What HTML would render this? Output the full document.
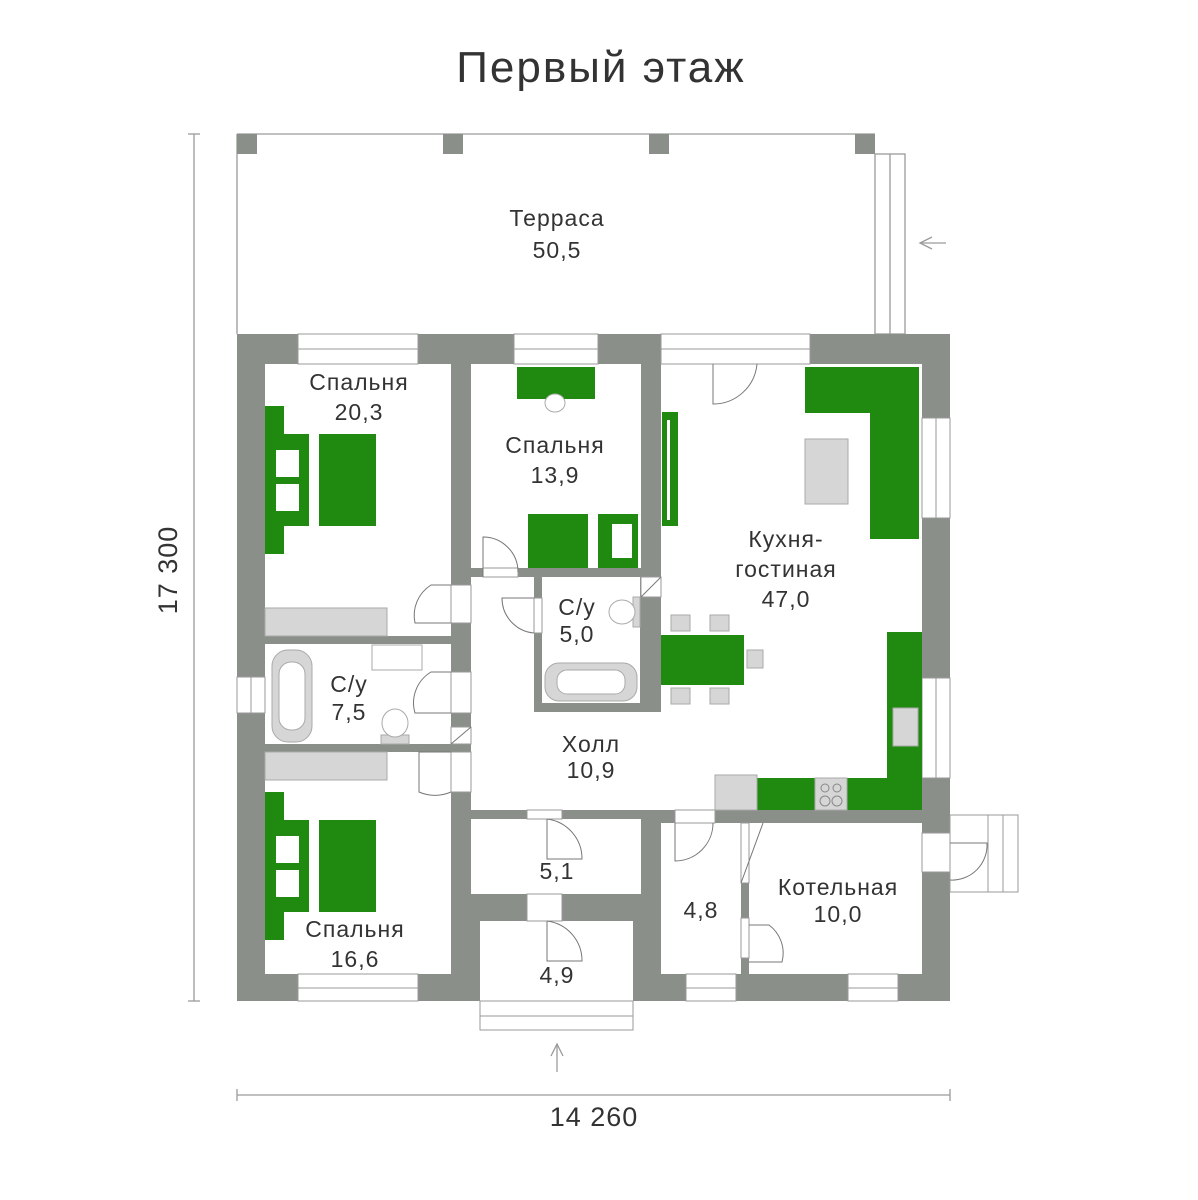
<!DOCTYPE html>
<html><head><meta charset="utf-8"><style>
html,body{margin:0;padding:0;background:#fff}
svg{display:block}
text{font-family:"Liberation Sans",sans-serif;fill:#333}
</style></head><body>
<svg width="1198" height="1200" viewBox="0 0 1198 1200" xmlns="http://www.w3.org/2000/svg">
<g fill="none" stroke="#9a9a9a" stroke-width="1.3">
<line x1="237" y1="134" x2="875" y2="134"/>
<line x1="237" y1="134" x2="237" y2="334"/>
<rect x="875" y="154" width="30" height="180"/>
<line x1="890" y1="154" x2="890" y2="334"/>
<line x1="920" y1="243" x2="946" y2="243"/>
<polyline points="932,237 920,243 932,249"/>
<line x1="194" y1="134" x2="194" y2="1001"/>
<line x1="188" y1="134" x2="200" y2="134"/>
<line x1="188" y1="1001" x2="200" y2="1001"/>
<line x1="237" y1="1095" x2="950" y2="1095"/>
<line x1="237" y1="1089" x2="237" y2="1101"/>
<line x1="950" y1="1089" x2="950" y2="1101"/>
<line x1="557" y1="1044" x2="557" y2="1072"/>
<polyline points="551,1056 557,1044 563,1056"/>
</g>
<g fill="#8a8f8a">
<rect x="237" y="134" width="20" height="20"/><rect x="443" y="134" width="20" height="20"/>
<rect x="649" y="134" width="20" height="20"/><rect x="855" y="134" width="20" height="20"/>
<rect x="237" y="334" width="713" height="667"/>
</g>
<g fill="#fff">
<rect x="265" y="364" width="186" height="272"/>
<rect x="471" y="364" width="170" height="204"/>
<rect x="661" y="364" width="261" height="446"/>
<rect x="471" y="577" width="190" height="233"/>
<rect x="641" y="712" width="30" height="98"/>
<rect x="265" y="644" width="186" height="100"/>
<rect x="265" y="752" width="186" height="222"/>
<rect x="471" y="819" width="170" height="75"/>
<rect x="480" y="921" width="153" height="80"/>
<rect x="661" y="823" width="80" height="151"/>
<rect x="749" y="823" width="173" height="151"/>
</g>
<rect x="534" y="575" width="127" height="137" fill="#8a8f8a"/>
<rect x="542" y="577" width="98" height="126" fill="#fff"/>
<g fill="#fff" stroke="#9a9a9a" stroke-width="1">
<rect x="298" y="334" width="120" height="30"/><line x1="298" y1="349" x2="418" y2="349"/>
<rect x="514" y="334" width="84" height="30"/><line x1="514" y1="349" x2="598" y2="349"/>
<rect x="661" y="334" width="149" height="30"/><line x1="661" y1="349" x2="810" y2="349"/>
<rect x="922" y="418" width="28" height="100"/><line x1="936" y1="418" x2="936" y2="518"/>
<rect x="922" y="678" width="28" height="100"/><line x1="936" y1="678" x2="936" y2="778"/>
<rect x="237" y="677" width="28" height="36"/><line x1="251" y1="677" x2="251" y2="713"/>
<rect x="298" y="974" width="120" height="27"/><line x1="298" y1="988" x2="418" y2="988"/>
<rect x="686" y="974" width="50" height="27"/><line x1="686" y1="988" x2="736" y2="988"/>
<rect x="848" y="974" width="50" height="27"/><line x1="848" y1="988" x2="898" y2="988"/>
<rect x="480" y="1001" width="153" height="29"/><line x1="480" y1="1016" x2="633" y2="1016"/>
<rect x="950" y="815" width="68" height="77"/><line x1="988" y1="815" x2="988" y2="892"/><line x1="1003" y1="815" x2="1003" y2="892"/>
<rect x="922" y="833" width="28" height="39"/>
<rect x="451" y="585" width="20" height="38"/>
<rect x="451" y="672" width="20" height="41"/>
<rect x="451" y="752" width="20" height="40"/>
<rect x="451" y="727" width="20" height="17"/>
<rect x="641" y="577" width="20" height="20"/>
<rect x="534" y="598" width="8" height="35"/>
<rect x="483" y="568" width="35" height="9"/>
<rect x="527" y="810" width="35" height="9"/>
<rect x="527" y="894" width="35" height="27"/>
<rect x="675" y="810" width="40" height="13"/>
<rect x="741" y="823" width="8" height="60"/>
<rect x="741" y="918" width="8" height="40"/>
</g>
<g fill="none" stroke="#777" stroke-width="1">
<path d="M713,364 v40 a44,44 0 0 0 44,-40"/>
<path d="M451,585 h-20 a36,36 0 0 0 -16,38 h36"/>
<path d="M451,672 h-20 a36,36 0 0 0 -16,41 h36"/>
<path d="M451,752 h-32 v40 a40,40 0 0 0 32,0"/>
<path d="M483,577 v-40 a35,35 0 0 1 35,35"/>
<path d="M534,598 h-32 a35,35 0 0 0 32,35"/>
<path d="M547,819 v40 h35 a40,40 0 0 0 -35,-40"/>
<path d="M547,921 v40 h35 a40,40 0 0 0 -35,-40"/>
<path d="M675,823 v38 a38,38 0 0 0 38,-38"/>
<path d="M741,883 l22,-60"/>
<path d="M749,925 h20 a35,35 0 0 1 13,37 h-33"/>
<path d="M950,843 h37 a35,35 0 0 1 -37,37"/>
<line x1="641" y1="597" x2="661" y2="577"/>
<line x1="451" y1="744" x2="471" y2="727"/>
</g>
<g fill="#1f8a0f">
<rect x="265" y="406" width="19" height="148"/><rect x="265" y="434" width="44" height="92"/><rect x="319" y="434" width="57" height="92"/>
<rect x="265" y="792" width="19" height="148"/><rect x="265" y="820" width="44" height="92"/><rect x="319" y="820" width="57" height="92"/>
<rect x="517" y="367" width="78" height="32"/>
<rect x="528" y="514" width="60" height="54"/><rect x="598" y="514" width="40" height="54"/>
<rect x="662" y="412" width="16" height="114"/>
<rect x="805" y="367" width="114" height="46"/><rect x="870" y="367" width="49" height="172"/>
<rect x="661" y="635" width="83" height="50"/>
<rect x="887" y="632" width="35" height="178"/><rect x="757" y="778" width="165" height="32"/>
</g>
<g fill="#fff">
<rect x="276" y="450" width="23" height="27"/><rect x="276" y="484" width="23" height="27"/>
<rect x="276" y="836" width="23" height="27"/><rect x="276" y="870" width="23" height="27"/>
<rect x="612" y="524" width="20" height="34"/>
<rect x="667" y="420" width="3" height="100"/>
</g>
<g fill="#d6d6d6" stroke="#aaa" stroke-width="1">
<rect x="265" y="608" width="122" height="28"/>
<rect x="265" y="752" width="122" height="28"/>
<rect x="805" y="439" width="43" height="65"/>
<rect x="715" y="775" width="42" height="35"/>
<rect x="815" y="778" width="32" height="32"/>
<rect x="893" y="708" width="25" height="38"/>
<rect x="671" y="615" width="19" height="16"/><rect x="710" y="615" width="19" height="16"/>
<rect x="671" y="688" width="19" height="16"/><rect x="710" y="688" width="19" height="16"/>
<rect x="747" y="650" width="16" height="18"/>
<rect x="272" y="650" width="40" height="92" rx="16"/>
<rect x="545" y="663" width="92" height="38" rx="14"/>
<rect x="372" y="645" width="50" height="25" fill="#fff"/>
<rect x="381" y="735" width="28" height="9"/>
<ellipse cx="395" cy="723" rx="13" ry="14" fill="#fff"/>
<rect x="633" y="597" width="7" height="30"/>
<ellipse cx="622" cy="612" rx="13" ry="12" fill="#fff"/>
<ellipse cx="555" cy="403" rx="10" ry="9" fill="#fff"/>
</g>
<g fill="#fff" stroke="#aaa"><rect x="279" y="662" width="26" height="68" rx="12"/><rect x="557" y="670" width="68" height="24" rx="10"/></g>
<g fill="none" stroke="#888"><circle cx="825" cy="788" r="4"/><circle cx="837" cy="788" r="4"/><circle cx="825" cy="801" r="5"/><circle cx="837" cy="801" r="5"/></g>
<g font-size="23" text-anchor="middle" letter-spacing="1">
<text x="601" y="82" font-size="44" letter-spacing="2">Первый этаж</text>
<text x="557" y="226">Терраса</text><text x="557" y="258">50,5</text>
<text x="359" y="390">Спальня</text><text x="359" y="420">20,3</text>
<text x="555" y="453">Спальня</text><text x="555" y="483">13,9</text>
<text x="786" y="547">Кухня-</text><text x="786" y="577">гостиная</text><text x="786" y="607">47,0</text>
<text x="577" y="615">С/у</text><text x="577" y="642">5,0</text>
<text x="349" y="692">С/у</text><text x="349" y="720">7,5</text>
<text x="591" y="752">Холл</text><text x="591" y="778">10,9</text>
<text x="557" y="879">5,1</text>
<text x="557" y="983">4,9</text>
<text x="701" y="918">4,8</text>
<text x="838" y="895">Котельная</text><text x="838" y="922">10,0</text>
<text x="355" y="937">Спальня</text><text x="355" y="967">16,6</text>
<text x="594" y="1126" font-size="27">14 260</text>
<text x="0" y="0" font-size="27" transform="translate(177,570) rotate(-90)">17 300</text>
</g>
</svg>
</body></html>
